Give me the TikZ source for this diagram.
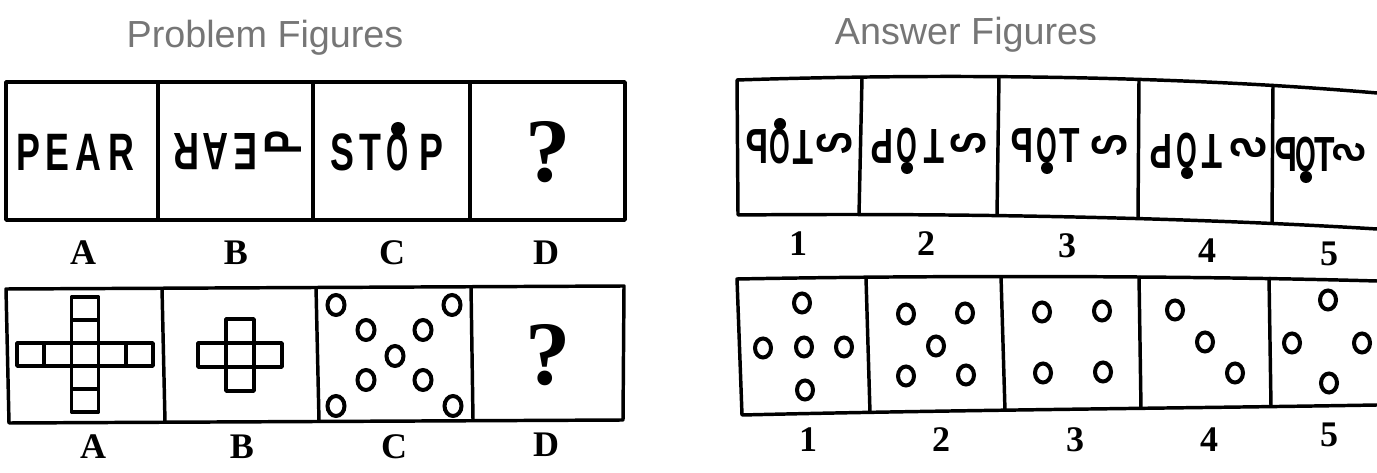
\documentclass[tikz,border=0pt]{standalone}
\usepackage{fontspec}
\setmainfont{Liberation Serif}
\setsansfont{Liberation Sans}
\usepackage{xcolor}
\usepackage{tikz}

\definecolor{headgrey}{RGB}{118,118,118}
\newfontfamily\wordfont{Liberation Sans}
\newcommand{\ltr}[1]{\scalebox{0.68}[1]{#1}}
\newcommand{\oltr}{\scalebox{0.54}[1]{O}}
\newcommand{\rot}[2]{\rotatebox[origin=c]{#1}{\ltr{#2}}}
\newcommand{\mir}[1]{\reflectbox{\ltr{#1}}}
\newcommand{\sidesa}{\rotatebox[origin=c]{90}{\reflectbox{\ltr{S}}}}
\newcommand{\sidesb}{\rotatebox[origin=c]{90}{\ltr{S}}}

\tikzset{
  letter/.style={inner sep=0pt, font=\wordfont\bfseries\fontsize{39.5}{41}\selectfont},
  ansletter/.style={inner sep=0pt, font=\wordfont\bfseries\fontsize{37}{39}\selectfont},
  figlabel/.style={inner sep=0pt, font=\bfseries\fontsize{27}{29}\selectfont},
  qmark/.style={inner sep=0pt, font=\bfseries\fontsize{68}{72}\selectfont},
  headtext/.style={inner sep=0pt, text=headgrey, font=\sffamily\fontsize{28.3}{30}\selectfont},
  boxline/.style={line width=2.6pt, line join=round},
  dotring/.style={line width=3pt},
}

\begin{document}
\begin{tikzpicture}[x=0.75pt,y=0.75pt,yscale=-1,xscale=1]
\useasboundingbox (0,0) rectangle (1377,473);
\clip (0,0) rectangle (1377,473);

% Headings
\node[headtext] (probhead) at (265,38) {Problem Figures};
\node[headtext] (anshead) at (966,35) {Answer Figures};

%Problem row 1 frame
\draw[boxline] (6,82) rectangle (625,220);
\draw[boxline] (158,82) -- (158,220);
\draw[boxline] (313,82) -- (313,220);
\draw[boxline] (470,82) -- (470,220);

% Cell A: PEAR
\node[letter] (pa1) at (28,152) {\ltr{P}};
\node[letter] (pa2) at (57,152) {\ltr{E}};
\node[letter] (pa3) at (88,152) {\ltr{A}};
\node[letter] (pa4) at (121,152) {\ltr{R}};
% Cell B
\node[letter] (pb1) at (187,152) {\rot{180}{R}};
\node[letter] (pb2) at (216,152) {\rot{180}{A}};
\node[letter] (pb3) at (246,152) {\rot{180}{E}};
\node[letter] (pb4) at (283,146) {\rot{90}{P}};
% Cell C: STOP
\node[letter] (pc1) at (342,152) {\ltr{S}};
\node[letter] (pc2) at (370,152) {\ltr{T}};
\node[letter] (pc3) at (398,152) {\oltr};
\node[letter] (pc4) at (431,152) {\ltr{P}};
\fill (398,129) circle (7);
% Cell D
\node[qmark] (pd) at (548,152) {?};

% Labels row 1
\node[figlabel] (la1) at (83,253) {A};
\node[figlabel] (lb1) at (236,253) {B};
\node[figlabel] (lc1) at (392,253) {C};
\node[figlabel] (ld1) at (546,253) {D};

%Problem row 2 frame
\draw[boxline] (6,289) -- (624,286) -- (623,420) -- (9,423) -- cycle;
\draw[boxline] (162,288) -- (165,422);
\draw[boxline] (316,287) -- (319,421);
\draw[boxline] (471,286) -- (473,420);

% Cell A: long cross
\draw[boxline] (17,343) rectangle (153,366);
\foreach \xc in {44.2,71.4,98.6,125.8} \draw[boxline] (\xc,343) -- (\xc,366);
\draw[boxline] (71.4,297) rectangle (98.6,412);
\foreach \yc in {320,389} \draw[boxline] (71.4,\yc) -- (98.6,\yc);
% Cell B: short cross
\draw[boxline] (198,343) rectangle (282,367);
\draw[boxline] (226,319) rectangle (254,391);
\draw[boxline] (226,343) -- (226,367);
\draw[boxline] (254,343) -- (254,367);
% Cell C: rings
\foreach \px/\py in {336/305,452/305,366/330,423/330,395/356,366/380,423/380,336/406,453/406}
  \draw[dotring] (\px,\py) ellipse (8.5 and 10);
% Cell D
\node[qmark] (pd2) at (548,355) {?};

% Labels row 2
\node[figlabel] (la2) at (93,447) {A};
\node[figlabel] (lb2) at (242,447) {B};
\node[figlabel] (lc2) at (394,447) {C};
\node[figlabel] (ld2) at (546,445) {D};

%Answer row 1 frame
\draw[boxline] (1377,93) .. controls (1180,76) and (950,73) .. (737,80) -- (738,215) .. controls (950,213) and (1180,217) .. (1377,229);
\draw[boxline] (862,78) -- (859,215);
\draw[boxline] (999,76) -- (997,215);
\draw[boxline] (1139,79) -- (1138,218);
\draw[boxline] (1273,84) -- (1272,222);

% Answer 1
\node[ansletter] (a11) at (757,147) {\mir{P}};
\node[ansletter] (a12) at (780,147) {\oltr};
\node[ansletter] (a13) at (803,147) {\rot{180}{T}};
\node[ansletter] (a14) at (835,146) {\sidesb};
\fill (780,124) circle (6);
% Answer 2
\node[ansletter] (a21) at (882,146) {\rot{180}{P}};
\node[ansletter] (a22) at (907,146) {\oltr};
\node[ansletter] (a23) at (934,146) {\rot{180}{T}};
\node[ansletter] (a24) at (969,146) {\sidesb};
\fill (907,168) circle (6);
% Answer 3
\node[ansletter] (a31) at (1022,146) {\mir{P}};
\node[ansletter] (a32) at (1047,146) {\oltr};
\node[ansletter] (a33) at (1070,146) {\ltr{T}};
\node[ansletter] (a34) at (1110,148) {\sidesb};
\fill (1047,168) circle (6);
% Answer 4
\node[ansletter] (a41) at (1161,151) {\rot{180}{P}};
\node[ansletter] (a42) at (1187,151) {\oltr};
\node[ansletter] (a43) at (1212,151) {\rot{180}{T}};
\node[ansletter] (a44) at (1248,151) {\sidesa};
\fill (1187,173) circle (6);
% Answer 5
\node[ansletter] (a51) at (1286,155) {\mir{P}};
\node[ansletter] (a52) at (1306,155) {\oltr};
\node[ansletter] (a53) at (1325,155) {\ltr{T}};
\node[ansletter, scale=0.9] (a54) at (1349,155) {\sidesa};
\fill (1306,177) circle (6);

% Labels answer row 1
\node[figlabel] (n11) at (798,244) {1};
\node[figlabel] (n12) at (926,244) {2};
\node[figlabel] (n13) at (1067,246) {3};
\node[figlabel] (n14) at (1207,251) {4};
\node[figlabel] (n15) at (1329,254) {5};

%Answer row 2 frame
\draw[boxline] (1377,281) .. controls (1200,276) and (950,275) .. (737,279) -- (742,415) .. controls (950,410) and (1200,408) .. (1377,405);
\draw[boxline] (866,278) -- (870,413);
\draw[boxline] (1001,276) -- (1005,411);
\draw[boxline] (1139,276) -- (1141,409);
\draw[boxline] (1269,277) -- (1271,407);

% Answer rings
\foreach \px/\py in {802/303,763/348,804/347,844/347,805/390,
                     906/314,965/313,936/346,906/376,966/375,
                     1042/312,1102/311,1043/373,1103/372,
                     1175/310,1205/342,1235/373,
                     1328/300,1292/343,1362/343,1329/383}
  \draw[dotring] (\px,\py) ellipse (8 and 9.5);

% Labels answer row 2
\node[figlabel] (n21) at (808,440) {1};
\node[figlabel] (n22) at (941,440) {2};
\node[figlabel] (n23) at (1075,440) {3};
\node[figlabel] (n24) at (1209,440) {4};
\node[figlabel] (n25) at (1329,435) {5};
\end{tikzpicture}
\end{document}
